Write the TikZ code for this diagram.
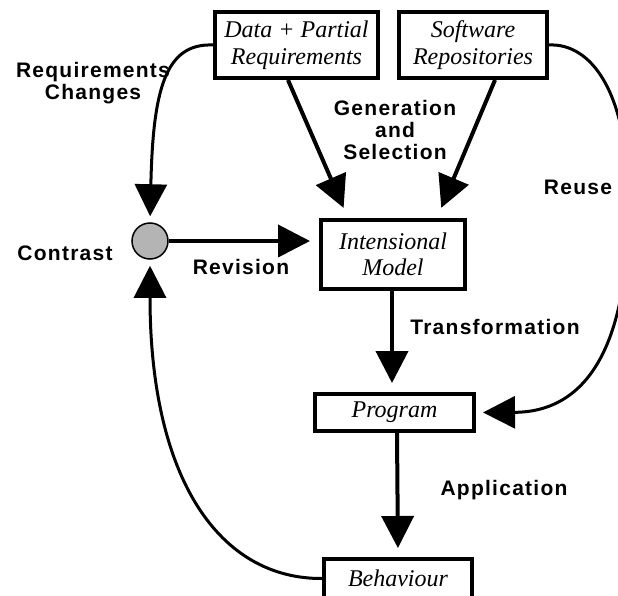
\documentclass[tikz,border=0pt]{standalone}
\usepackage{fontspec}
\setmainfont{Liberation Serif}
\newfontfamily\labelsans[LetterSpace=6]{Liberation Sans}
\usetikzlibrary{arrows.meta,calc}
\definecolor{nodegray}{RGB}{180,180,180}

\begin{document}
\begin{tikzpicture}[x=1pt,y=-1pt,
  box/.style={draw, line width=4pt, align=center, inner sep=0pt,
    font=\fontsize{24}{26.5}\selectfont\itshape},
  flow/.style={line width=4pt, -{Triangle[length=32pt,width=32pt]}},
  loop/.style={line width=3pt, -{Triangle[length=32pt,width=32pt]}},
  lbl/.style={inner sep=0pt, align=center,
    font=\labelsans\bfseries\fontsize{21}{22}\selectfont}
]
\useasboundingbox (0,0) rectangle (618,596);

% boxes
\node[box, minimum width=163pt, minimum height=66pt] (data) at (296.5,45) {Data + Partial\\Requirements};
\node[box, minimum width=148pt, minimum height=66pt] (repo) at (473,45) {Software\\Repositories};
\node[box, minimum width=144pt, minimum height=69pt] (model) at (393,254.5) {Intensional\\Model};
\node[box, minimum width=159pt, minimum height=37pt] (prog) at (394.5,412.5) {Program};
\node[box, minimum width=148pt, minimum height=39pt] (behav) at (398,578.5) {Behaviour};
\node[circle, draw, line width=1.5pt, fill=nodegray, minimum size=36pt, inner sep=0pt] (contrast) at (150,241) {};

% straight flows
\draw[flow, shorten >=11pt] ($(data.south)+(-8.5,0)$) -- ($(model.north)+(-45,0)$);
\draw[flow, shorten >=11pt] ($(repo.south)+(22,0)$) -- ($(model.north)+(44,0)$);
\draw[flow, shorten >=9pt] (contrast.east) -- (contrast.east -| model.west);
\draw[flow, shorten >=9pt] ($(model.south)+(-1,0)$) -- ($(prog.north)+(-2.5,0)$);
\draw[flow, shorten >=9pt] ($(prog.south)+(2.5,0)$) -- (behav.north);

% curved feedback connectors
\draw[loop, shorten >=6pt] (data.west) .. controls (165,43) and (153,90) .. (contrast.north);
\draw[loop, shorten >=6pt] (behav.west) .. controls (220,579) and (150,480) .. (contrast.south);
\draw[loop, shorten >=7pt] (repo.east) .. controls (590,43) and (628,90) .. (628,200)
  .. controls (630,340) and (590,412) .. (prog.east);

% labels
\node[lbl] (lreq) at (93,83) {Requirements\\Changes};
\node[lbl] (lgen) at (395,130) {Generation\\and\\Selection};
\node[lbl] (lreuse) at (578,187) {Reuse};
\node[lbl] (lcon) at (65,253) {Contrast};
\node[lbl] (lrev) at (241,267) {Revision};
\node[lbl] (ltra) at (495,327) {Transformation};
\node[lbl] (lapp) at (504,490) {Application};
\end{tikzpicture}
\end{document}
